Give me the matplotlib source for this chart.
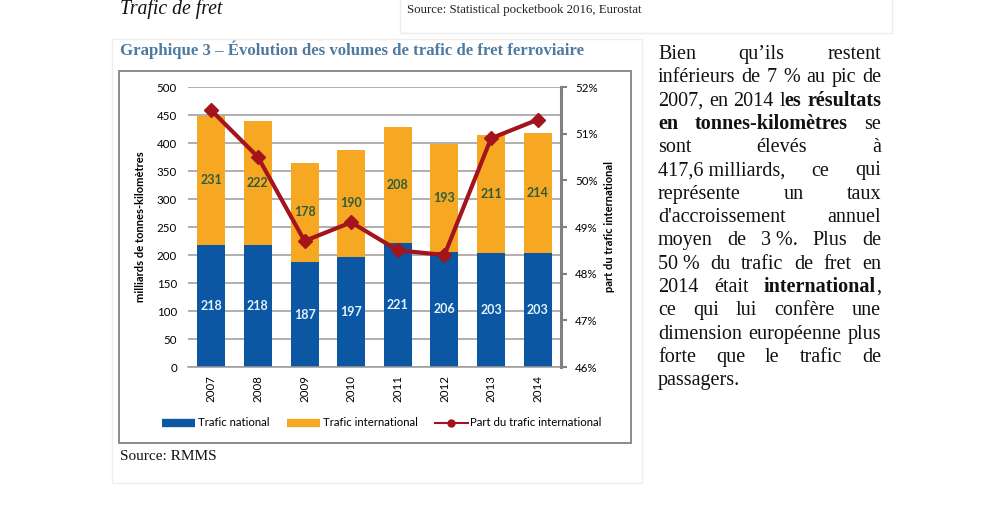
import matplotlib
matplotlib.use("Agg")
import matplotlib.pyplot as plt
from matplotlib.lines import Line2D
from matplotlib.patches import Rectangle

# data
years = ["2007", "2008", "2009", "2010", "2011", "2012", "2013", "2014"]
national = [218, 218, 187, 197, 221, 206, 203, 203]
international = [231, 222, 178, 190, 208, 193, 211, 214]
share_intl = [51.5, 50.5, 48.7, 49.1, 48.5, 48.4, 50.9, 51.3]

left_ticks = [0, 50, 100, 150, 200, 250, 300, 350, 400, 450, 500]
right_ticks = [46, 47, 48, 49, 50, 51, 52]

body_lines = [
    "Bien qu’ils restent",
    "inférieurs de 7 % au pic de",
    "2007, en 2014 l*es* *résultats*",
    "*en* *tonnes-kilomètres* se",
    "sont élevés à",
    "417,6\u00a0milliards, ce qui",
    "représente un taux",
    "d'accroissement annuel",
    "moyen de 3\u00a0%. Plus de",
    "50\u00a0% du trafic de fret en",
    "2014 était *international*,",
    "ce qui lui confère une",
    "dimension européenne plus",
    "forte que le trafic de",
    "passagers.",
]

BLUE = "#0b57a4"
ORANGE = "#f7a823"
RED = "#a3141c"
SANS = ["Lato", "DejaVu Sans"]
SERIF = ["Liberation Serif", "DejaVu Serif"]

W, H = 1000, 528
fig = plt.figure(figsize=(W / 100, H / 100), dpi=100)
fig.patch.set_facecolor("white")


def fx(px):
    return px / W


def fy(py):
    return 1 - py / H


def box(x0, y0, x1, y1, color, lw):
    fig.add_artist(Rectangle((fx(x0), fy(y1)), fx(x1 - x0), (y1 - y0) / H,
                             transform=fig.transFigure, fill=False,
                             edgecolor=color, linewidth=lw))


# page frames
box(400, -2, 892, 33, "#ececec", 1.0)
box(112, 39, 642, 483, "#eeeeee", 1.0)
box(119, 71, 631, 443, "#8a8a8a", 1.4)

# page text
fig.text(fx(120), fy(14), "Trafic de fret", family=SERIF, style="italic",
         fontsize=14.2, va="baseline", color="#111111")
fig.text(fx(407), fy(13), "Source: Statistical pocketbook 2016, Eurostat",
         family=SERIF, fontsize=9.3, va="baseline", color="#222222")
fig.text(fx(120), fy(55),
         "Graphique 3 – Évolution des volumes de trafic de fret ferroviaire",
         family=SERIF, fontweight="bold", fontsize=12.1, va="baseline",
         color="#4d7aa0")
fig.text(fx(120), fy(460), "Source: RMMS", family=SERIF, fontsize=11,
         va="baseline", color="#111111")

# chart
ax = fig.add_axes([fx(188), fy(367), fx(373), 280 / H])
x = range(len(years))
ax.bar(x, national, width=0.6, color=BLUE, zorder=2)
ax.bar(x, international, width=0.6, bottom=national, color=ORANGE, zorder=2)
for i in x:
    ax.text(i, national[i] / 2, str(national[i]), ha="center", va="center",
            fontsize=9, fontweight="bold", color="#e4f2fb", family=SANS,
            zorder=3)
    ax.text(i, national[i] + international[i] / 2, str(international[i]),
            ha="center", va="center", fontsize=9, fontweight="bold",
            color="#2e5d3a", family=SANS, zorder=3)

ax.set_xlim(-0.5, len(years) - 0.5)
ax.set_ylim(0, 500)
ax.set_yticks(left_ticks)
ax.set_xticks(list(x))
ax.set_xticklabels(years, rotation=90, family=SANS, fontsize=8.3)
ax.tick_params(axis="x", length=0, pad=6)
ax.tick_params(axis="y", length=0, pad=8, labelsize=8.3)
for lab in ax.get_yticklabels():
    lab.set_family(SANS)
ax.grid(axis="y", color="#9a9a9a", linewidth=1.1, zorder=0)
for side in ["left", "top", "right"]:
    ax.spines[side].set_visible(False)
ax.spines["bottom"].set_color("#9a9a9a")
ax.spines["bottom"].set_linewidth(1.1)
ax.set_ylabel("milliards de tonnes-kilomètres", family=SANS, fontsize=8,
              fontweight="bold", labelpad=8)

ax2 = ax.twinx()
ax2.plot(list(x), share_intl, color=RED, linewidth=3, marker="D",
         markersize=7.5, zorder=4)
ax2.set_ylim(46, 52)
ax2.set_yticks(right_ticks)
ax2.set_yticklabels([f"{t}%" for t in right_ticks], family=SANS, fontsize=8.3)
ax2.tick_params(axis="y", length=4, width=1.5, color="#808080", pad=6)
for side in ["left", "top", "bottom"]:
    ax2.spines[side].set_visible(False)
ax2.spines["right"].set_color("#808080")
ax2.spines["right"].set_linewidth(2.2)
ax2.set_ylabel("part du trafic international", family=SANS, fontsize=8,
               fontweight="bold", labelpad=5)

handles = [
    Line2D([], [], color=BLUE, linewidth=6, solid_capstyle="butt"),
    Line2D([], [], color=ORANGE, linewidth=6, solid_capstyle="butt"),
    Line2D([], [], color=RED, linewidth=1.5, marker="o", markersize=5),
]
fig.legend(handles, ["Trafic national", "Trafic international",
                     "Part du trafic international"],
           loc="center", bbox_to_anchor=(fx(382), fy(423)), ncol=3,
           frameon=False, handlelength=2.9, handletextpad=0.25,
           columnspacing=1.5, prop={"family": SANS, "size": 8.2})

# justified body text on the right
renderer = fig.canvas.get_renderer()
x_left, x_right = 658, 881
base0, step = 59, 23.3
for n, line in enumerate(body_lines):
    yb = fy(base0 + n * step)
    words = []
    for w in line.split(" "):
        frags = []
        for k, part in enumerate(w.split("*")):
            if part:
                t = fig.text(0, yb, part, family=SERIF, fontsize=14.5,
                             fontweight="bold" if k % 2 else "normal",
                             va="baseline", color="#111111")
                frags.append(t)
        words.append(frags)
    widths = [[t.get_window_extent(renderer).width for t in fr] for fr in words]
    total = sum(sum(w) for w in widths)
    last = n == len(body_lines) - 1
    gap = 4.0 if (last or len(words) == 1) else (x_right - x_left - total) / (len(words) - 1)
    cur = x_left
    for fr, ws in zip(words, widths):
        for t, wd in zip(fr, ws):
            t.set_x(fx(cur))
            cur += wd
        cur += gap

fig.savefig("out.png", dpi=100, facecolor="white")
